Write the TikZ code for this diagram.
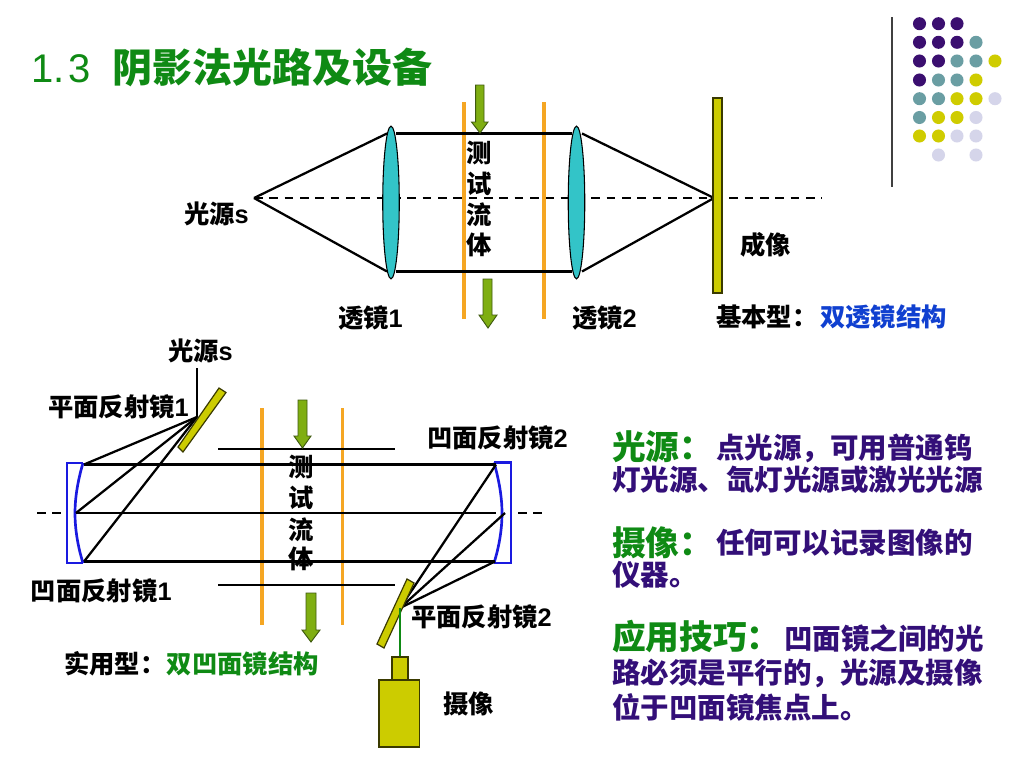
\documentclass[tikz,border=0pt]{standalone}
\usepackage{fontspec}
\usetikzlibrary{shapes.geometric}
\setmainfont{Liberation Sans}
\newfontfamily\cjk{Noto Sans CJK SC}
\newcommand{\zh}[1]{{\cjk\bfseries #1}}
\newcommand{\lt}[1]{{\bfseries #1}}
\definecolor{titlegreen}{HTML}{0F8A14}
\definecolor{lensteal}{HTML}{33C4C8}
\definecolor{plate}{HTML}{CCCC00}
\definecolor{plateedge}{HTML}{3A3A00}
\definecolor{flow}{HTML}{7FAE12}
\definecolor{flowedge}{HTML}{3F5A10}
\definecolor{wall}{HTML}{F5A623}
\definecolor{mirror}{HTML}{1A1AE0}
\definecolor{bodyviolet}{HTML}{330F78}
\definecolor{headgreen}{HTML}{0F8A14}
\definecolor{linkblue}{HTML}{1040D0}
\definecolor{dotP}{HTML}{3B0F70}
\definecolor{dotT}{HTML}{6A9EA3}
\definecolor{dotY}{HTML}{CFCC00}
\definecolor{dotL}{HTML}{D5D5EA}
\tikzset{
  lbl/.style={inner sep=0pt,outer sep=0pt,anchor=west,font=\fontsize{19}{19}\selectfont},
  vchar/.style={inner sep=0pt,outer sep=0pt,font=\fontsize{19}{19}\selectfont},
  body/.style={inner sep=0pt,outer sep=0pt,anchor=west,text=bodyviolet,font=\fontsize{21.4}{21.4}\selectfont},
  head/.style={inner sep=0pt,outer sep=0pt,anchor=west,text=headgreen,font=\fontsize{25.3}{25.3}\selectfont},
  ray/.style={draw=black,line width=1.7pt},
  axis/.style={draw=black,line width=1.9pt,dash pattern=on 6.5pt off 5pt},
  wallline/.style={draw=wall,line width=2.6pt},
  lens/.style={draw=black,fill=lensteal,line width=.8pt,ellipse,inner sep=0pt,minimum width=12.4pt,minimum height=114.5pt},
  plateface/.style={draw=plateedge,fill=plate,line width=.9pt},
  arrowshape/.style={draw=flowedge,fill=flow,line width=.7pt},
  mirrorline/.style={draw=mirror,line width=2pt},
  dot/.style={circle,inner sep=0pt,minimum size=9.8pt}
}
\begin{document}
\begin{tikzpicture}[x=0.75pt,y=-0.75pt]
\useasboundingbox (0,0) rectangle (1024,768);
\fill[white] (0,0) rectangle (1024,768);
% decoration
\coordinate (barT) at (892,17); \coordinate (barB) at (892,187);
\draw[draw=black!75,line width=1pt] (barT) -- (barB);
\foreach \c/\x/\y in {P/919.5/23.7,P/938.5/23.7,P/957/23.7,
 P/919.5/42.3,P/938.5/42.3,P/957/42.3,T/976/42.3,
 P/919.5/61,P/938.5/61,T/957/61,T/976/61,Y/995/61,
 P/919.5/80,T/938.5/80,T/957/80,Y/976/80,
 T/919.5/98.7,T/938.5/98.7,Y/957/98.7,Y/976/98.7,L/995/98.7,
 T/919.5/117.5,Y/938.5/117.5,Y/957/117.5,L/976/117.5,
 Y/919.5/136,Y/938.5/136,L/957/136,L/976/136,
 L/938.5/155,L/976/155}
 \node[dot,fill=dot\c] at (\x,\y) {};
% title
\node[inner sep=0pt,anchor=west,text=titlegreen,font=\fontsize{30}{30}\selectfont] (title) at (31,67)
  {1.\kern.1em 3\hspace{.53em}\zh{阴影法光路及设备}};
% ===== top set-up
\coordinate (s1) at (254,198);
\coordinate (ax1) at (822,198);
\draw[axis] (s1) -- (ax1);
\draw[wallline] (464,102) coordinate (w1a) -- (464,319) coordinate (w1b);
\draw[wallline] (544,102) coordinate (w2a) -- (544,319) coordinate (w2b);
\node[lens] (L1) at (391,202.5) {};
\node[lens] (L2) at (576.5,202.5) {};
\coordinate (L1t) at (387,133.5); \coordinate (L1b) at (387,271.5);
\coordinate (L1tr) at (396,133.5); \coordinate (L1br) at (396,271.5);
\coordinate (L2tl) at (572,133.5); \coordinate (L2bl) at (572,271.5);
\coordinate (L2t) at (582,133.5); \coordinate (L2b) at (582,271.5);
\coordinate (img) at (714,198);
\draw[ray] (s1) -- (L1t);
\draw[ray] (s1) -- (L1b);
\draw[ray] (L1tr) -- (L2tl);
\draw[ray] (L1br) -- (L2bl);
\draw[ray] (L2t) -- (img);
\draw[ray] (L2b) -- (img);
\draw[plateface] (713,98) rectangle (722,293);
\draw[arrowshape] (475.7,85) -- (484,85) -- (484,122) -- (488,122) -- (480,133) -- (471.5,122) -- (475.7,122) -- cycle;
\draw[arrowshape] (483,279) -- (492,279) -- (492,315) -- (497,315) -- (488,328) -- (479,315) -- (483,315) -- cycle;
\node[vchar] (t1) at (479,153) {\zh{测}};
\node[vchar] (t2) at (479,184) {\zh{试}};
\node[vchar] (t3) at (479,215) {\zh{流}};
\node[vchar] (t4) at (479,245) {\zh{体}};
\node[lbl] (srcA) at (184,214) {\zh{光源}\lt{s}};
\node[lbl] (imgA) at (740,245) {\zh{成像}};
\node[lbl] (lensA) at (338,318) {\zh{透镜}\lt{1}};
\node[lbl] (lensB) at (572,318) {\zh{透镜}\lt{2}};
\node[lbl] (basic) at (716,317) {\zh{基本型：}\kern2pt\textcolor{linkblue}{\zh{双透镜结构}}};
% ===== lower set-up
\coordinate (axL) at (37,513); \coordinate (axLe) at (62,513);
\coordinate (axR) at (518,513); \coordinate (axRe) at (542,513);
\draw[axis] (axL) -- (axLe);
\draw[axis] (axR) -- (axRe);
\draw[wallline] (262,408) -- (262,625);
\draw[wallline] (342.5,408) -- (342.5,625);
\coordinate (m1t) at (84,464.5); \coordinate (m1m) at (76,513); \coordinate (m1b) at (84,561.5);
\coordinate (m2t) at (496,464.5); \coordinate (m2m) at (505,513); \coordinate (m2b) at (495,561.5);
\coordinate (m2mi) at (496,513);
\coordinate (f1) at (197,417); \coordinate (f1top) at (197,368);
\coordinate (f2) at (400,608); \coordinate (cam) at (400,657);
\draw[mirrorline] (83,463) -- (67,463) -- (67,563) -- (83,563);
\draw[mirrorline] (83,463) .. controls (78,480) and (75,497) .. (75,513) .. controls (75,530) and (78,547) .. (83,563);
\draw[mirrorline] (494,462.5) -- (511,462.5) -- (511,563) -- (494,563);
\draw[mirrorline] (494,462.5) .. controls (499,480) and (502,497) .. (502,513) .. controls (502,530) and (499,547) .. (494,563);
\draw[ray] (m1t) -- (m2t);
\draw[ray,line width=2pt] (m1m) -- (m2mi);
\draw[ray] (m1b) -- (m2b);
\draw[ray] (218,449) coordinate (sh1a) -- (395,449) coordinate (sh1b);
\draw[ray] (218,585) coordinate (sh2a) -- (395,585) coordinate (sh2b);
\draw[draw=black,line width=1.3pt] (f1top) -- (f1);
\draw[ray] (f1) -- (m1t);
\draw[ray] (f1) -- (m1m);
\draw[ray] (f1) -- (m1b);
\draw[plateface] (219,388) -- (226,392.5) -- (183,452) -- (178,447) -- cycle;
\draw[ray] (f2) -- (m2t);
\draw[ray] (f2) -- (m2m);
\draw[ray] (f2) -- (m2b);
\draw[plateface] (407,579) -- (414,583) -- (384,648) -- (377,644) -- cycle;
\draw[draw=headgreen,line width=1.3pt] (f2) -- (cam);
\draw[plateface] (392,657) rectangle (408,680);
\draw[plateface] (379,680) rectangle (419.5,747);
\draw[arrowshape] (298,400) -- (307,400) -- (307,436) -- (311,436) -- (302.5,448) -- (294,436) -- (298,436) -- cycle;
\draw[arrowshape] (306,593) -- (316,593) -- (316,630) -- (320,630) -- (311,642) -- (302,630) -- (306,630) -- cycle;
\node[vchar] (u1) at (301,467) {\zh{测}};
\node[vchar] (u2) at (301,498) {\zh{试}};
\node[vchar] (u3) at (301,530) {\zh{流}};
\node[vchar] (u4) at (301,559) {\zh{体}};
\node[lbl] (srcB) at (168,351) {\zh{光源}\lt{s}};
\node[lbl] (pm1) at (48,407) {\zh{平面反射镜}\lt{1}};
\node[lbl] (cm2) at (427,438) {\zh{凹面反射镜}\lt{2}};
\node[lbl] (cm1) at (31,591) {\zh{凹面反射镜}\lt{1}};
\node[lbl] (pm2) at (411,617) {\zh{平面反射镜}\lt{2}};
\node[lbl] (camL) at (443,704) {\zh{摄像}};
\node[lbl] (prac) at (64,664) {\zh{实用型：}\kern1pt\textcolor{headgreen}{\zh{双凹面镜结构}}};
% ===== text block
\node[head] (h1) at (612,447) {\zh{光源：}};
\node[body] (b1) at (716,448) {\zh{点光源，可用普通钨}};
\node[body] (b2) at (612,480) {\zh{灯光源、氙灯光源或激光光源}};
\node[head] (h2) at (612,543) {\zh{摄像：}};
\node[body] (b3) at (716,543) {\zh{任何可以记录图像的}};
\node[body] (b4) at (612,575) {\zh{仪器。}};
\node[head] (h3) at (612,637) {\zh{应用技巧：}};
\node[body] (b5) at (784,638) {\zh{凹面镜之间的光}};
\node[body] (b6) at (612,673) {\zh{路必须是平行的，光源及摄像}};
\node[body] (b7) at (612,707) {\zh{位于凹面镜焦点上。}};
\end{tikzpicture}
\end{document}
